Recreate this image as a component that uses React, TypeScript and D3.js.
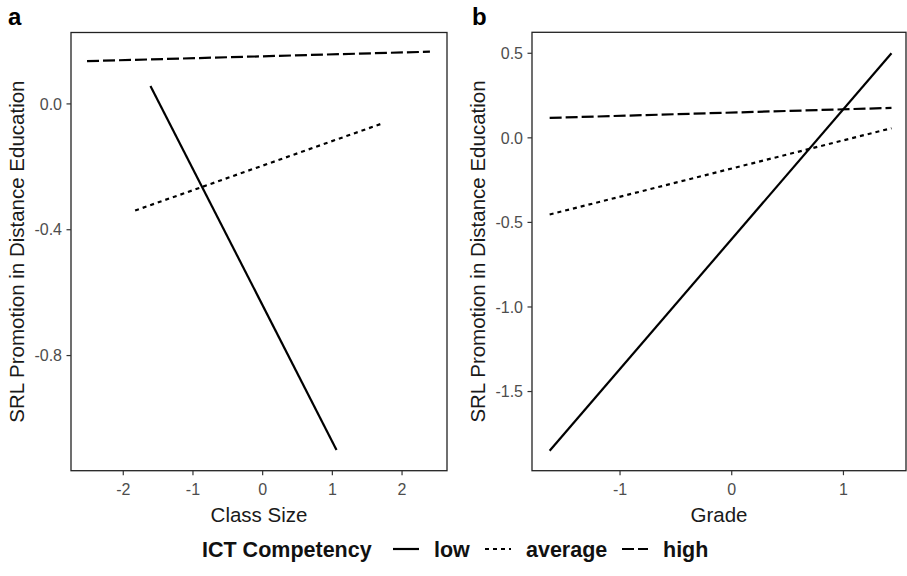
import React from "react";
import * as d3 from "d3";

const W = 907;
const H = 576;

const levels = ["low", "average", "high"];
const dashes: Record<string, string | undefined> = { low: undefined, average: "4,4", high: "12,4" };

// Panel a: Class Size
const aX = [-2.52, 2.4];
const aHighY = [0.136, 0.166];
const aLowX = [-1.61, 1.06];
const aLowY = [0.057, -1.1];
const aAvgX = [-1.83, 1.73];
const aAvgY = [-0.339, -0.061];
const aXTicks = [-2, -1, 0, 1, 2];
const aYTicks = [0.0, -0.4, -0.8];

// Panel b: Grade
const bX = [-1.63, 1.43];
const bLowY = [-1.85, 0.5];
const bAvgY = [-0.453, 0.057];
const bHighY = [0.118, 0.177];
const bXTicks = [-1, 0, 1];
const bYTicks = [0.5, 0.0, -0.5, -1.0, -1.5];

type Series = { level: string; xs: number[]; ys: number[] };

const panelA: Series[] = [
  { level: "low", xs: aLowX, ys: aLowY },
  { level: "average", xs: aAvgX, ys: aAvgY },
  { level: "high", xs: aX, ys: aHighY },
];
const panelB: Series[] = [
  { level: "low", xs: bX, ys: bLowY },
  { level: "average", xs: bX, ys: bAvgY },
  { level: "high", xs: bX, ys: bHighY },
];

const FONT = "Liberation Sans, Arial, sans-serif";

const fmtTick = (v: number, digits: number) => {
  const s = d3.format(digits ? ".1f" : "d")(Math.abs(v) < 1e-9 ? 0 : v);
  return s.replace("\u2212", "-");
};

function Panel(props: {
  left: number; right: number; top: number; bottom: number;
  xDomain: [number, number]; yDomain: [number, number];
  xTicks: number[]; yTicks: number[];
  series: Series[]; xTitle: string; label: string; labelX: number; yTitleX: number;
}) {
  const { left, right, top, bottom } = props;
  const x = d3.scaleLinear().domain(props.xDomain).range([left, right]);
  const y = d3.scaleLinear().domain(props.yDomain).range([bottom, top]);
  return (
    <g>
      <text x={props.labelX} y={25} fontFamily={FONT} fontWeight="bold" fontSize={24}>{props.label}</text>
      {props.series.map((s) => {
        const pts: [number, number][] = s.xs.map((xv, i) => [x(xv), y(s.ys[i])]);
        const p = d3.line()(pts) || "";
        return (
          <path key={s.level} d={p} fill="none" stroke="#000" strokeWidth={2.2}
            strokeDasharray={dashes[s.level]} />
        );
      })}
      <rect x={left} y={top} width={right - left} height={bottom - top} fill="none" stroke="#222" strokeWidth={1.3} />
      {props.xTicks.map((t) => (
        <g key={"x" + t}>
          <line x1={x(t)} x2={x(t)} y1={bottom} y2={bottom + 4.5} stroke="#333" strokeWidth={1.2} />
          <text x={x(t)} y={bottom + 24.5} textAnchor="middle" fontFamily={FONT} fontSize={16} fill="#4d4d4d">{fmtTick(t, 0)}</text>
        </g>
      ))}
      {props.yTicks.map((t) => (
        <g key={"y" + t}>
          <line x1={left - 4.5} x2={left} y1={y(t)} y2={y(t)} stroke="#333" strokeWidth={1.2} />
          <text x={left - 9} y={y(t) + 5.7} textAnchor="end" fontFamily={FONT} fontSize={16} fill="#4d4d4d">{fmtTick(t, 1)}</text>
        </g>
      ))}
      <text x={(left + right) / 2} y={522} textAnchor="middle" fontFamily={FONT} fontSize={20.5} fill="#1a1a1a">{props.xTitle}</text>
      <text transform={`translate(${props.yTitleX},${(top + bottom) / 2}) rotate(-90)`} textAnchor="middle" fontFamily={FONT} fontSize={20.5} fill="#1a1a1a">SRL Promotion in Distance Education</text>
    </g>
  );
}

export default function App() {
  const legendItems = [
    { level: "low", lx: 393, tx: 434 },
    { level: "average", lx: 485, tx: 526 },
    { level: "high", lx: 622, tx: 663 },
  ];
  return (
    <svg width={W} height={H} style={{ display: "block", position: "absolute", left: 0, top: 0 }}>
      <rect width={W} height={H} fill="#fff" />
      <Panel left={71} right={447} top={32.5} bottom={470.7}
        xDomain={[-2.75, 2.645]} yDomain={[-1.166, 0.227]}
        xTicks={aXTicks} yTicks={aYTicks}
        series={panelA} xTitle="Class Size" label="a" labelX={8} yTitleX={24} />
      <Panel left={532} right={906} top={32.3} bottom={470.7}
        xDomain={[-1.788, 1.56]} yDomain={[-1.968, 0.624]}
        xTicks={bXTicks} yTicks={bYTicks}
        series={panelB} xTitle="Grade" label="b" labelX={472} yTitleX={485} />
      <g>
        <text x={202} y={557} fontFamily={FONT} fontWeight="bold" fontSize={21.5} fill="#111">ICT Competency</text>
        {levels.map((lv, i) => {
          const it = legendItems[i];
          return (
            <g key={lv}>
              <line x1={it.lx} x2={it.lx + 26} y1={549} y2={549} stroke="#000" strokeWidth={2.2}
                strokeDasharray={dashes[lv]} />
              <text x={it.tx} y={557} fontFamily={FONT} fontWeight="bold" fontSize={21.5} fill="#111">{lv}</text>
            </g>
          );
        })}
      </g>
    </svg>
  );
}
